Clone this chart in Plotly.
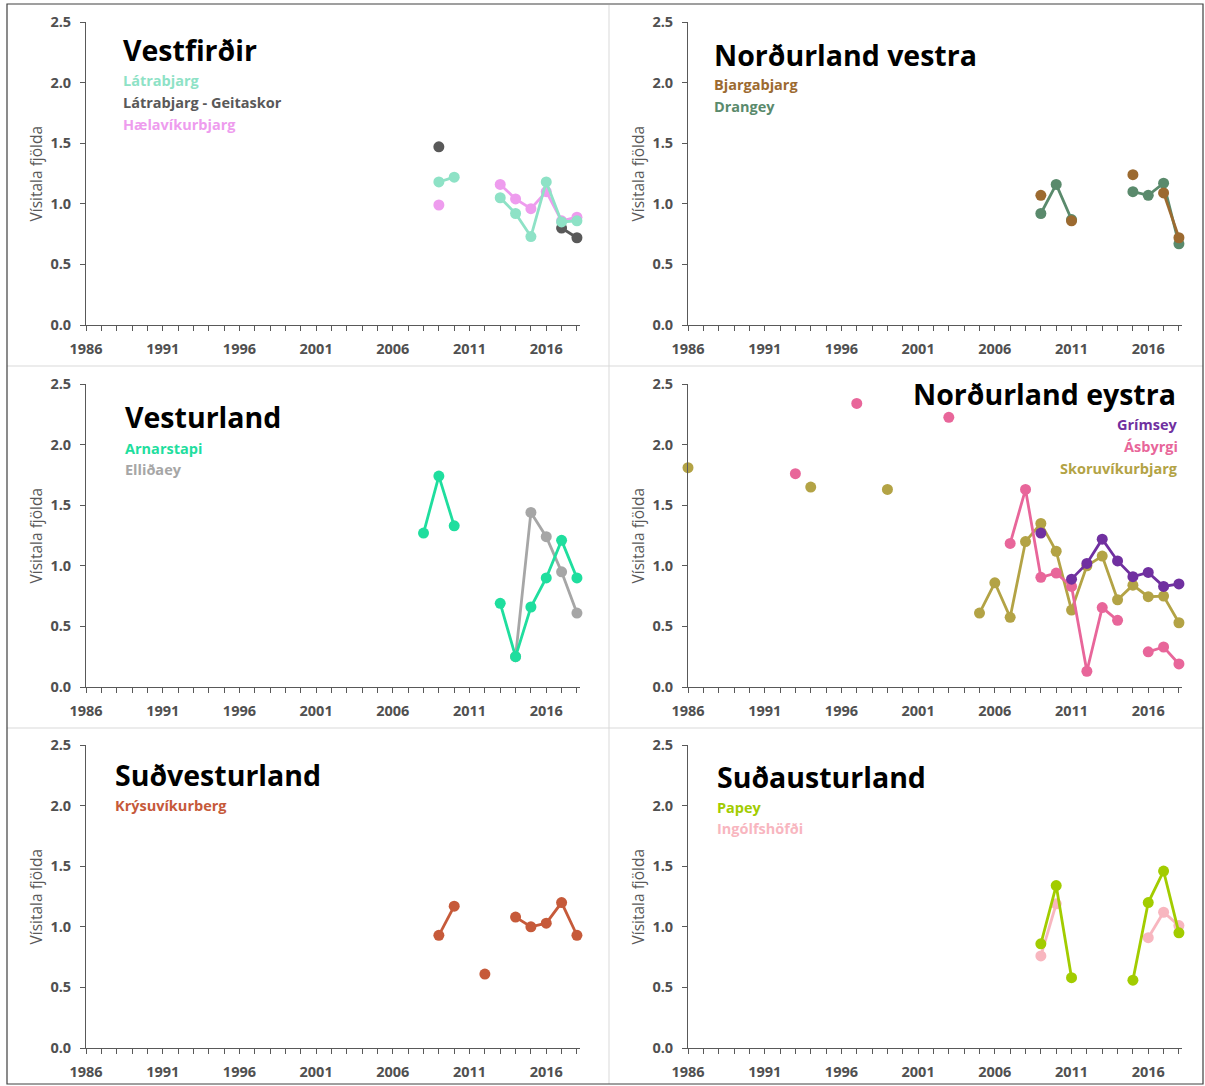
import plotly.graph_objects as go

W, H = 1205, 1086
years = list(range(1986, 2019))

def series(d):
    return [d.get(y) for y in years]

# ---- data ----
latrabjarg = series({2009: 1.18, 2010: 1.22, 2013: 1.05, 2014: 0.92, 2015: 0.73, 2016: 1.18, 2017: 0.85, 2018: 0.86})
geitaskor = series({2009: 1.47, 2017: 0.80, 2018: 0.72})
haelavik = series({2009: 0.99, 2013: 1.16, 2014: 1.04, 2015: 0.96, 2016: 1.10, 2017: 0.86, 2018: 0.89})

bjargabjarg = series({2009: 1.07, 2011: 0.86, 2015: 1.24, 2017: 1.09, 2018: 0.72})
drangey = series({2009: 0.92, 2010: 1.16, 2011: 0.87, 2015: 1.10, 2016: 1.07, 2017: 1.17, 2018: 0.67})

arnarstapi = series({2008: 1.27, 2009: 1.74, 2010: 1.33, 2013: 0.69, 2014: 0.25, 2015: 0.66, 2016: 0.90, 2017: 1.21, 2018: 0.90})
ellidaey = series({2014: 0.25, 2015: 1.44, 2016: 1.24, 2017: 0.95, 2018: 0.61})

grimsey = series({2009: 1.27, 2011: 0.89, 2012: 1.02, 2013: 1.22, 2014: 1.04, 2015: 0.91, 2016: 0.945, 2017: 0.83, 2018: 0.85})
asbyrgi = series({1993: 1.76, 1997: 2.34, 2003: 2.225, 2007: 1.185, 2008: 1.63, 2009: 0.905, 2010: 0.94, 2011: 0.83,
                  2012: 0.13, 2013: 0.655, 2014: 0.55, 2016: 0.29, 2017: 0.33, 2018: 0.19})
skoruvik = series({1986: 1.81, 1994: 1.65, 1999: 1.63, 2005: 0.61, 2006: 0.86, 2007: 0.575, 2008: 1.20, 2009: 1.35,
                   2010: 1.12, 2011: 0.635, 2012: 1.00, 2013: 1.08, 2014: 0.72, 2015: 0.84, 2016: 0.745, 2017: 0.75, 2018: 0.53})

krysuvik = series({2009: 0.93, 2010: 1.17, 2012: 0.61, 2014: 1.08, 2015: 1.00, 2016: 1.03, 2017: 1.20, 2018: 0.93})

papey = series({2009: 0.86, 2010: 1.34, 2011: 0.58, 2015: 0.56, 2016: 1.20, 2017: 1.46, 2018: 0.95})
ingolfshofdi = series({2009: 0.76, 2010: 1.19, 2016: 0.91, 2017: 1.12, 2018: 1.01})

y_ticks = [0.0, 0.5, 1.0, 1.5, 2.0, 2.5]
y_tick_text = ["0.0", "0.5", "1.0", "1.5", "2.0", "2.5"]
x_ticks = [1986, 1991, 1996, 2001, 2006, 2011, 2016]
y_title = "Vísitala fjölda"

panels = [
    dict(title="Vestfirðir", align="left",
         series=[("Látrabjarg", latrabjarg, "#8EE2C6"),
                 ("Látrabjarg - Geitaskor", geitaskor, "#595959"),
                 ("Hælavíkurbjarg", haelavik, "#EE9CEE")]),
    dict(title="Norðurland vestra", align="left",
         series=[("Bjargabjarg", bjargabjarg, "#9C6A30"),
                 ("Drangey", drangey, "#5A8A6C")]),
    dict(title="Vesturland", align="left",
         series=[("Arnarstapi", arnarstapi, "#1FDE9E"),
                 ("Elliðaey", ellidaey, "#A6A6A6")]),
    dict(title="Norðurland eystra", align="right",
         series=[("Grímsey", grimsey, "#7030A0"),
                 ("Ásbyrgi", asbyrgi, "#E8669A"),
                 ("Skoruvíkurbjarg", skoruvik, "#B3A345")]),
    dict(title="Suðvesturland", align="left",
         series=[("Krýsuvíkurberg", krysuvik, "#C65A3A")]),
    dict(title="Suðausturland", align="left",
         series=[("Papey", papey, "#A2CC00"),
                 ("Ingólfshöfði", ingolfshofdi, "#F8B6BF")]),
]

# layout geometry in pixels
col_x = [(86, 580), (688, 1182)]
row_y = [(22, 325), (384, 687), (745, 1048)]
title_pos = [(121, 50), (712, 55), (123, 417), (1178, 394), (113, 775), (715, 777)]
legend_start = [81, 85, 448, 425, 805, 807]
legend_step = 21.5

def to_px(x):
    return x / W

def to_py(y):
    return 1 - y / H

fig = go.Figure()
FONT = "Open Sans"
annotations = []
shapes = []
axes = {}
tickfont = dict(family=FONT, size=14.5, color="#505050", weight="bold")

for i, p in enumerate(panels):
    r, c = divmod(i, 2)
    n = i + 1
    suffix = "" if n == 1 else str(n)
    for name, vals, col in reversed(p["series"]):
        fig.add_trace(go.Scatter(x=years, y=vals, mode="lines+markers", name=name,
                                 line=dict(color=col, width=2.8),
                                 marker=dict(color=col, size=11),
                                 connectgaps=False, showlegend=False, cliponaxis=False,
                                 xaxis="x" + suffix, yaxis="y" + suffix))
    x0, x1 = col_x[c]
    y0, y1 = row_y[r]
    axes["xaxis" + suffix] = dict(
        domain=[to_px(x0), to_px(x1)], anchor="y" + suffix, range=[1986, 2018.2],
        tickmode="array", tickvals=x_ticks, ticktext=[str(v) for v in x_ticks],
        ticks="outside", ticklen=5, tickcolor="#595959", ticklabelstandoff=6,
        minor=dict(dtick=1, tick0=1986, ticks="outside", ticklen=5, tickcolor="#595959"),
        showline=True, linecolor="#595959", linewidth=1, showgrid=False, zeroline=False,
        tickfont=tickfont, fixedrange=True, automargin=False)
    axes["yaxis" + suffix] = dict(
        domain=[to_py(y1), to_py(y0)], anchor="x" + suffix, range=[0, 2.5],
        tickmode="array", tickvals=y_ticks, ticktext=y_tick_text,
        ticks="outside", ticklen=5, tickcolor="#595959", ticklabelstandoff=6,
        showline=True, linecolor="#595959", linewidth=1, showgrid=False, zeroline=False,
        tickfont=tickfont, fixedrange=True, automargin=False)
    annotations.append(dict(x=to_px(x0 - 51), y=to_py((y0 + y1) / 2), xref="paper", yref="paper",
                            text=y_title, textangle=-90, showarrow=False,
                            font=dict(family=FONT, size=15.5, color="#595959"),
                            xanchor="center", yanchor="middle"))
    tx, ty = title_pos[i]
    anchor = "left" if p["align"] == "left" else "right"
    annotations.append(dict(x=to_px(tx), y=to_py(ty), xref="paper", yref="paper", text=p["title"],
                            showarrow=False, xanchor=anchor, yanchor="middle",
                            font=dict(family=FONT, size=28.5, color="#000000", weight="bold")))
    lx = tx if anchor == "left" else tx + 2
    for k, (name, vals, col) in enumerate(p["series"]):
        annotations.append(dict(x=to_px(lx), y=to_py(legend_start[i] + k * legend_step), xref="paper", yref="paper",
                                text=name, showarrow=False, xanchor=anchor, yanchor="middle",
                                font=dict(family=FONT, size=14.5, color=col, weight="bold")))

shapes.append(dict(type="line", xref="paper", yref="paper", x0=to_px(609), x1=to_px(609), y0=to_py(1084), y1=to_py(5),
                   line=dict(color="#D9D9D9", width=1)))
for yy in (366, 728):
    shapes.append(dict(type="line", xref="paper", yref="paper", x0=to_px(7), x1=to_px(1203), y0=to_py(yy), y1=to_py(yy),
                       line=dict(color="#D9D9D9", width=1)))
shapes.append(dict(type="rect", xref="paper", yref="paper", x0=to_px(7), x1=to_px(1203), y0=to_py(1084), y1=to_py(4),
                   line=dict(color="#404040", width=1.2)))

fig.update_layout(width=W, height=H, autosize=False, margin=dict(l=0, r=0, t=0, b=0, pad=0, autoexpand=False),
                  paper_bgcolor="white", plot_bgcolor="white",
                  annotations=annotations, shapes=shapes, showlegend=False, **axes)

fig.write_html("out.html", config={"displayModeBar": False},
               post_script="document.body.style.margin='0';document.body.style.overflow='hidden';")
